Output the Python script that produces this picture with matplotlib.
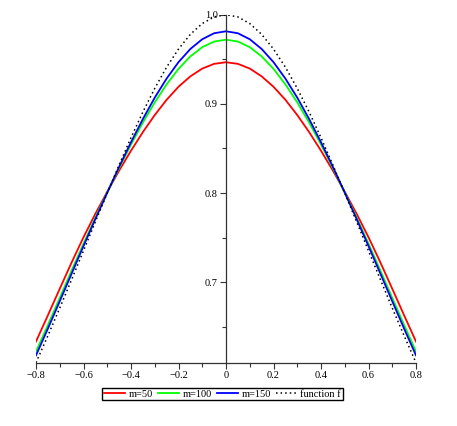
import matplotlib
matplotlib.use("Agg")
import matplotlib.pyplot as plt
from matplotlib.ticker import MultipleLocator, FuncFormatter

x = [-0.8, -0.75, -0.7, -0.65, -0.6, -0.55, -0.5, -0.45, -0.4, -0.35, -0.3, -0.25, -0.2, -0.15, -0.1, -0.05,
     0.0, 0.05, 0.1, 0.15, 0.2, 0.25, 0.3, 0.35, 0.4, 0.45, 0.5, 0.55, 0.6, 0.65, 0.7, 0.75, 0.8]

m50 = [0.6335, 0.6629, 0.6927, 0.7222, 0.7505, 0.7768, 0.8015, 0.8252, 0.8475, 0.8684, 0.8875, 0.9046, 0.9192, 0.9309, 0.9396, 0.9449,
       0.9467, 0.9449, 0.9396, 0.9309, 0.9192, 0.9046, 0.8875, 0.8684, 0.8475, 0.8252, 0.8015, 0.7768, 0.7505, 0.7222, 0.6927, 0.6629, 0.6335]
m100 = [0.6222, 0.6520, 0.6825, 0.7131, 0.7433, 0.7725, 0.8008, 0.8282, 0.8544, 0.8791, 0.9017, 0.9219, 0.9393, 0.9533, 0.9636, 0.9699,
        0.9720, 0.9699, 0.9636, 0.9533, 0.9393, 0.9219, 0.9017, 0.8791, 0.8544, 0.8282, 0.8008, 0.7725, 0.7433, 0.7131, 0.6825, 0.6520, 0.6222]
m150 = [0.6180, 0.6480, 0.6787, 0.7097, 0.7406, 0.7709, 0.8005, 0.8294, 0.8570, 0.8830, 0.9070, 0.9284, 0.9468, 0.9616, 0.9725, 0.9792,
        0.9814, 0.9792, 0.9725, 0.9616, 0.9468, 0.9284, 0.9070, 0.8830, 0.8570, 0.8294, 0.8005, 0.7709, 0.7406, 0.7097, 0.6787, 0.6480, 0.6180]
func_f = [0.6098, 0.6400, 0.6711, 0.7030, 0.7353, 0.7678, 0.8000, 0.8316, 0.8621, 0.8909, 0.9174, 0.9412, 0.9615, 0.9780, 0.9901, 0.9975,
          1.0000, 0.9975, 0.9901, 0.9780, 0.9615, 0.9412, 0.9174, 0.8909, 0.8621, 0.8316, 0.8000, 0.7678, 0.7353, 0.7030, 0.6711, 0.6400, 0.6098]

labels = ["m=50", "m=100", "m=150", "function f"]

plt.rcParams['font.family'] = ['Liberation Serif', 'DejaVu Serif']

fig = plt.figure(figsize=(4.57, 4.26), dpi=100)
ax = fig.add_axes([36/457, 63.3/426, 380/457, 348/426])

ax.plot(x, m50, color='#ff0000', lw=1.3, label=labels[0])
ax.plot(x, m100, color='#00ff00', lw=1.3, label=labels[1])
ax.plot(x, m150, color='#0000ff', lw=1.3, label=labels[2])
ax.plot(x, func_f, color='black', lw=1.1, linestyle=(0, (1, 2)), label=labels[3])

ax.set_xlim(-0.8, 0.8)
ax.set_ylim(min(func_f), 1.0)

for s in ['top', 'right']:
    ax.spines[s].set_visible(False)
ax.spines['left'].set_position(('data', 0))
ax.spines['left'].set_color('#333333')
ax.spines['bottom'].set_color('#333333')
ax.spines['left'].set_linewidth(0.9)
ax.spines['bottom'].set_linewidth(0.9)

ax.xaxis.set_major_locator(MultipleLocator(0.2))
ax.xaxis.set_minor_locator(MultipleLocator(0.1))
ax.yaxis.set_major_locator(MultipleLocator(0.1))
ax.yaxis.set_minor_locator(MultipleLocator(0.05))

def xfmt(v, pos):
    if abs(v) < 1e-9:
        return "0"
    s = "%.1f" % abs(v)
    return ("\u2212" + s) if v < 0 else s

def yfmt(v, pos):
    return "%.1f" % v

ax.xaxis.set_major_formatter(FuncFormatter(xfmt))
ax.yaxis.set_major_formatter(FuncFormatter(yfmt))
ax.tick_params(axis='both', which='major', direction='out', length=4, width=0.8,
               labelsize=7.5, pad=2, color='#333333')
ax.tick_params(axis='both', which='minor', direction='out', length=3, width=0.8, color='#333333')

handles, labs = ax.get_legend_handles_labels()
leg = fig.legend(handles, labs, loc='center', bbox_to_anchor=(222.5/457, 1 - 394/426),
                 ncol=4, fontsize=7.5, frameon=True, fancybox=False, framealpha=1,
                 edgecolor='black', handlelength=2.0, handletextpad=0.35, columnspacing=0.5,
                 borderpad=0.15, borderaxespad=0)
leg.get_frame().set_linewidth(1.0)

fig.savefig("out.png", dpi=100)
